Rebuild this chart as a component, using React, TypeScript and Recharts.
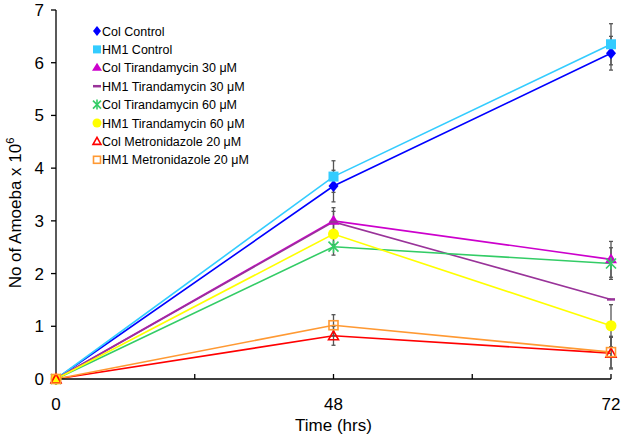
import React from "react";
import { LineChart, Line, XAxis, YAxis, ErrorBar } from "recharts";

// time points (hrs)
const times = ["0", "48", "72"];

// cell counts, x 10^6
const colControl = [0, 3.66, 6.18];
const hm1Control = [0, 3.84, 6.35];
const colTir30 = [0, 3.0, 2.27];
const hm1Tir30 = [0, 2.98, 1.51];
const colTir60 = [0, 2.51, 2.19];
const hm1Tir60 = [0, 2.75, 1.01];
const colMetro = [0, 0.82, 0.49];
const hm1Metro = [0, 1.02, 0.51];

// error bar half-lengths
const colControlErr = [0, 0.3, 0.32];
const hm1ControlErr = [0, 0.3, 0.39];
const colTir30Err = [0, 0.25, 0.34];
const hm1Tir30Err = [0, 0.2, 0];
const colTir60Err = [0, 0.16, 0.3];
const hm1Tir60Err = [0, 0.2, 0.4];
const colMetroErr = [0, 0.18, 0.3];
const hm1MetroErr = [0, 0.2, 0.3];

const yTicks = [0, 1, 2, 3, 4, 5, 6, 7];

type Shape =
  | "diamond"
  | "square"
  | "triangle"
  | "dash"
  | "star"
  | "circle"
  | "triangleOpen"
  | "squareOpen";

const series: { key: string; name: string; color: string; shape: Shape; values: number[]; err: number[] }[] = [
  { key: "colControl", name: "Col Control", color: "#0000FF", shape: "diamond", values: colControl, err: colControlErr },
  { key: "hm1Control", name: "HM1 Control", color: "#33CCFF", shape: "square", values: hm1Control, err: hm1ControlErr },
  { key: "colTir30", name: "Col Tirandamycin 30 μM", color: "#CC00CC", shape: "triangle", values: colTir30, err: colTir30Err },
  { key: "hm1Tir30", name: "HM1 Tirandamycin 30 μM", color: "#993399", shape: "dash", values: hm1Tir30, err: hm1Tir30Err },
  { key: "colTir60", name: "Col Tirandamycin 60 μM", color: "#33CC66", shape: "star", values: colTir60, err: colTir60Err },
  { key: "hm1Tir60", name: "HM1 Tirandamycin 60 μM", color: "#FFFF00", shape: "circle", values: hm1Tir60, err: hm1Tir60Err },
  { key: "colMetro", name: "Col Metronidazole 20 μM", color: "#FF0000", shape: "triangleOpen", values: colMetro, err: colMetroErr },
  { key: "hm1Metro", name: "HM1 Metronidazole 20 μM", color: "#FF9933", shape: "squareOpen", values: hm1Metro, err: hm1MetroErr },
];

const data = times.map((t, i) => {
  const row: Record<string, number | string> = { idx: i, time: t };
  series.forEach((s) => {
    row[s.key] = s.values[i];
    row[s.key + "Err"] = s.err[i];
  });
  return row;
});

const FONT = "'Liberation Sans', Arial, sans-serif";

function Marker({ cx, cy, shape, color, r = 5 }: { cx: number; cy: number; shape: Shape; color: string; r?: number }) {
  switch (shape) {
    case "diamond":
      return <polygon points={`${cx},${cy - r - 1} ${cx + r},${cy} ${cx},${cy + r + 1} ${cx - r},${cy}`} fill={color} />;
    case "square":
      return <rect x={cx - r} y={cy - r} width={r * 2} height={r * 2} fill={color} />;
    case "triangle":
      return <polygon points={`${cx},${cy - r - 1} ${cx + r + 1},${cy + r - 1} ${cx - r - 1},${cy + r - 1}`} fill={color} />;
    case "dash":
      return <line x1={cx - 4} y1={cy} x2={cx + 4} y2={cy} stroke={color} strokeWidth={2.5} />;
    case "star":
      return (
        <g stroke={color} strokeWidth={1.6}>
          <line x1={cx - r} y1={cy - r} x2={cx + r} y2={cy + r} />
          <line x1={cx - r} y1={cy + r} x2={cx + r} y2={cy - r} />
          <line x1={cx} y1={cy - r - 1} x2={cx} y2={cy + r + 1} />
        </g>
      );
    case "circle":
      return <circle cx={cx} cy={cy} r={r + 0.5} fill={color} />;
    case "triangleOpen":
      return (
        <polygon
          points={`${cx},${cy - r} ${cx + r},${cy + r - 1} ${cx - r},${cy + r - 1}`}
          fill="none"
          stroke={color}
          strokeWidth={1.6}
        />
      );
    case "squareOpen":
      return <rect x={cx - r + 0.5} y={cy - r + 0.5} width={r * 2 - 1} height={r * 2 - 1} fill="none" stroke={color} strokeWidth={1.6} />;
  }
  return null;
}

function LegendBox() {
  return (
    <svg width={220} height={160} style={{ position: "absolute", left: 90, top: 21 }}>
      {series.map((s, i) => {
        const y = 10 + i * 18.4;
        return (
          <g key={s.key}>
            <Marker cx={7} cy={y} shape={s.shape} color={s.color} r={4} />
            <text x={12} y={y + 4.5} fontSize={12.5} fontFamily={FONT} fill="#000">
              {s.name}
            </text>
          </g>
        );
      })}
    </svg>
  );
}

function YLabel() {
  return (
    <text
      x={20.5}
      y={213}
      transform="rotate(-90 20.5 213)"
      textAnchor="middle"
      fontSize={17}
      fontFamily={FONT}
      fill="#000"
    >
      No of Amoeba x 10
      <tspan dy={-7} fontSize={11}>
        6
      </tspan>
    </text>
  );
}

export default function App() {
  return (
    <div style={{ position: "absolute", left: 0, top: 0, width: 624, height: 440, background: "#fff" }}>
      <LineChart width={624} height={440} data={data} margin={{ top: 10, right: 13, left: 0, bottom: 0 }}>
        <XAxis
          dataKey="idx"
          type="number"
          domain={[0, 2]}
          ticks={[0, 0.5, 1, 1.5, 2]}
          allowDecimals
          tickFormatter={(v: number) => (Number.isInteger(v) ? times[v] : "")}
          height={61}
          axisLine={{ stroke: "#000", strokeWidth: 1.3 }}
          tickLine={{ stroke: "#000", strokeWidth: 1.3 }}
          tickSize={-5}
          tickMargin={24}
          tick={{ fill: "#000", fontSize: 17, fontFamily: FONT }}
          label={{ value: "Time (hrs)", position: "insideBottom", offset: 9, fill: "#000", fontSize: 17, fontFamily: FONT }}
        />
        <YAxis
          type="number"
          domain={[0, 7]}
          ticks={yTicks}
          width={56}
          axisLine={{ stroke: "#000", strokeWidth: 1.3 }}
          tickLine={{ stroke: "#000", strokeWidth: 1.3 }}
          tickSize={5}
          tickMargin={7}
          tick={{ fill: "#000", fontSize: 17, fontFamily: FONT }}
          label={{ content: () => <YLabel /> }}
        />
        {series.map((s) => (
          <Line
            key={s.key}
            type="linear"
            dataKey={s.key}
            name={s.name}
            stroke={s.color}
            strokeWidth={1.6}
            isAnimationActive={false}
            activeDot={false}
            dot={(p: any) => (
              <Marker key={`${s.key}-${p.index}`} cx={p.cx} cy={p.cy} shape={s.shape} color={s.color} />
            )}
          >
            <ErrorBar dataKey={s.key + "Err"} width={2} stroke="#555" strokeWidth={1.3} direction="y" />
          </Line>
        ))}
      </LineChart>
      <LegendBox />
    </div>
  );
}
